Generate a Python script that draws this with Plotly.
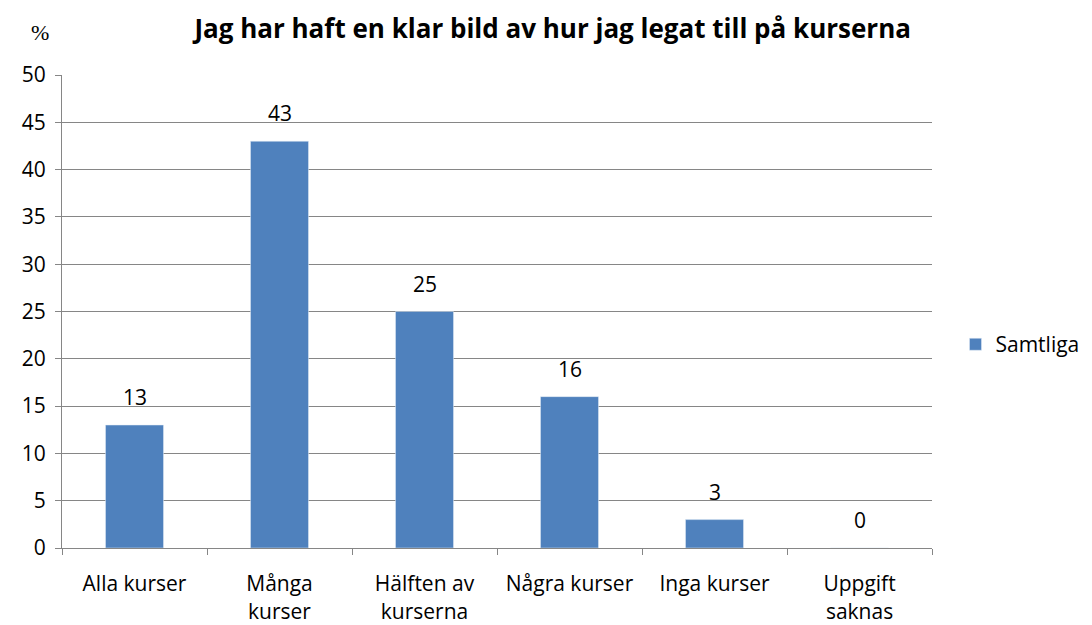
import plotly.graph_objects as go

categories = ["Alla kurser", "Många<br>kurser", "Hälften av<br>kurserna", "Några kurser", "Inga kurser", "Uppgift<br>saknas"]
values = [13, 43, 25, 16, 3, 0]
series_name = "Samtliga"
title_text = "Jag har haft en klar bild av hur jag legat till på kurserna"
y_ticks = [0, 5, 10, 15, 20, 25, 30, 35, 40, 45, 50]

FONT = "Open Sans"
BAR = "#4F81BD"
GRID = "#868686"
FS = 21

fig = go.Figure()
fig.add_trace(go.Bar(
    x=categories, y=values, name=series_name,
    marker=dict(color=BAR), width=0.4, showlegend=True,
))

for c, v in zip(categories, values):
    fig.add_annotation(x=c, y=v, text=str(v), showarrow=False,
                       yshift=28, font=dict(family=FONT, size=FS, color="#000"),
                       xref="x", yref="y")

fig.add_annotation(xref="paper", yref="paper", x=-0.025, y=1.089,
                   xanchor="center", yanchor="middle", text="%", showarrow=False,
                   font=dict(family="Liberation Serif", size=22, color="#000"))

fig.update_layout(
    width=1084, height=617,
    paper_bgcolor="white", plot_bgcolor="white",
    margin=dict(l=54, r=160, t=67, b=77, autoexpand=False),
    title=dict(text="<b>" + title_text + "</b>", x=0.564, xref="paper", xanchor="center",
               y=0.966, yref="container", yanchor="middle",
               font=dict(family=FONT, size=26, color="#000")),
    font=dict(family=FONT, size=FS, color="#000"),
    legend=dict(x=1.027, xanchor="left", y=0.43, yanchor="middle",
                font=dict(family=FONT, size=FS, color="#000"),
                itemwidth=30, bgcolor="rgba(0,0,0,0)"),
    bargap=0.6,
)
fig.update_xaxes(
    type="category", tickson="boundaries", ticks="outside", ticklen=6, tickcolor=GRID,
    showline=True, linecolor=GRID, linewidth=1, showgrid=False,
    ticklabelstandoff=17,
    tickfont=dict(family=FONT, size=FS, color="#000"),
)
fig.update_yaxes(
    range=[0, 50], tickvals=y_ticks, ticks="outside", ticklen=6, tickcolor=GRID,
    showline=True, linecolor=GRID, linewidth=1,
    showgrid=True, gridcolor=GRID, gridwidth=1, zeroline=False,
    ticklabelstandoff=5,
    tickfont=dict(family=FONT, size=FS, color="#000"),
)

fig.write_html("out.html")
